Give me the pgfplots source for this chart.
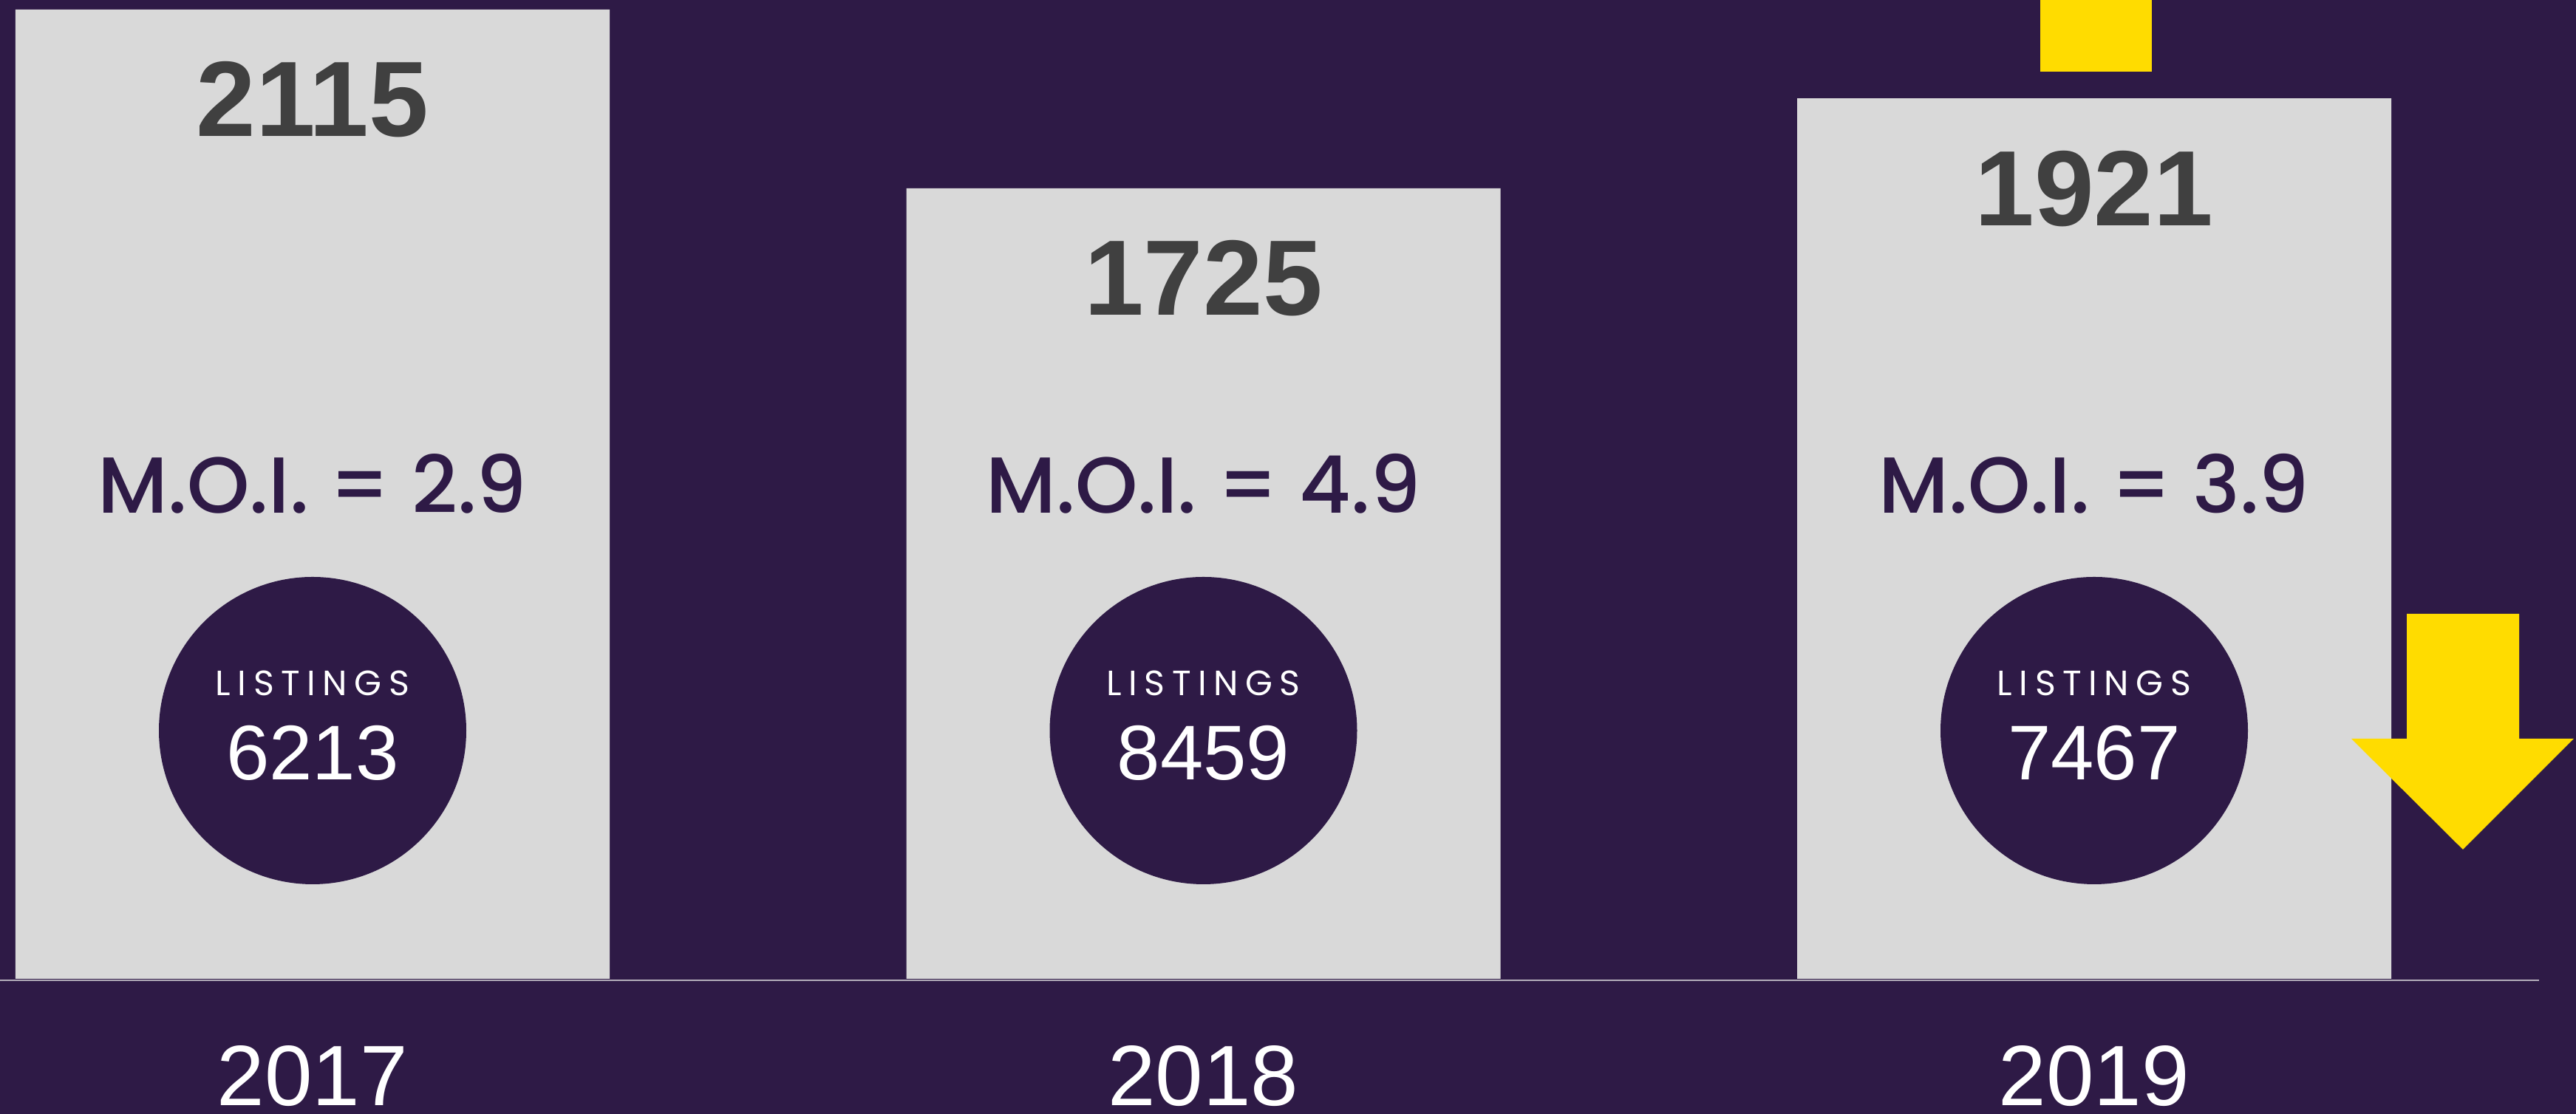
\documentclass[border=0pt]{standalone}
\usepackage{pgfplots}
\pgfplotsset{compat=1.18}
\usepackage{pgfplotstable}
\usepackage{fontspec}
\setmainfont{Liberation Sans}
\newfontfamily\popfont{Poppins Medium}
\newfontfamily\lsfont{Poppins}[LetterSpace=20]
\definecolor{bgpurple}{HTML}{2E1A46}
\definecolor{barg}{HTML}{D9D9D9}
\definecolor{valg}{HTML}{404040}
\definecolor{yel}{HTML}{FFDC00}
\definecolor{basel}{HTML}{B4AEBB}

\pgfplotstableread{
x year sales moi listings
0 2017 2115 2.9 6213
1 2018 1725 4.9 8459
2 2019 1921 3.9 7467
}\data

\pgfplotsset{
  textonly/.style={draw=none, mark=none, point meta=explicit symbolic},
}

\begin{document}
\begin{tikzpicture}
\path[use as bounding box, fill=bgpurple] (0,0) rectangle (697.2pt,301.6pt);
\begin{axis}[
  at={(0pt,36.6pt)}, anchor=south west,
  width=697.2pt, height=265pt, scale only axis,
  xmin=-0.35089, xmax=2.54085, ymin=0, ymax=2135.8,
  axis line style={draw=none}, tick style={draw=none},
  xtick=\empty, ytick=\empty,
  clip=false,
]
% bars
\addplot[ybar, bar width=160.8pt, fill=barg, draw=none] table[x=x, y=sales] \data;
% baseline
\draw[basel, line width=0.45pt] ([yshift=-0.35pt]rel axis cs:0,0) -- ([yshift=-0.35pt]rel axis cs:0.98566,0);
% bar values
\addplot[textonly,
  nodes near coords={\fontsize{29}{29}\selectfont\bfseries\pgfplotspointmeta},
  every node near coord/.style={anchor=center, yshift=-24.4pt, text=valg, inner sep=0pt}]
  table[x=x, y=sales, meta=sales] \data;
% M.O.I.
\addplot[textonly,
  nodes near coords={\popfont\fontsize{21.5}{21.5}\selectfont M.O.I.\ = \pgfplotspointmeta},
  every node near coord/.style={anchor=center, text=bgpurple, inner sep=0pt}]
  table[x=x, y expr=1080, meta=moi] \data;
% listing circles
\addplot[textonly,
  nodes near coords={},
  every node near coord/.style={anchor=center, circle, fill=bgpurple, draw=none,
    minimum size=83.2pt, inner sep=0pt}]
  table[x=x, y expr=541.6, meta=listings] \data;
% listing numbers
\addplot[textonly,
  nodes near coords={\fontsize{21}{21}\selectfont\pgfplotspointmeta},
  every node near coord/.style={anchor=center, yshift=-6pt, text=white, inner sep=0pt}]
  table[x=x, y expr=541.6, meta=listings] \data;
% LISTINGS caption
\addplot[textonly,
  nodes near coords={\lsfont\fontsize{9.5}{9.5}\selectfont LISTINGS},
  every node near coord/.style={anchor=center, yshift=12.8pt, text=white, inner sep=0pt}]
  table[x=x, y expr=541.6, meta=listings] \data;
% years
\addplot[textonly,
  nodes near coords={\fontsize{23.2}{23.2}\selectfont\pgfplotspointmeta},
  every node near coord/.style={anchor=center, yshift=-26.3pt, text=white, inner sep=0pt}]
  table[x=x, y expr=0, meta=year] \data;
\end{axis}
% decorative yellow shapes
\fill[yel] (552.2pt,282.2pt) rectangle (582.4pt,301.6pt);
\fill[yel] (651.4pt,135.4pt) -- (681.8pt,135.4pt) -- (681.8pt,101.6pt) -- (696.6pt,101.6pt)
  -- (666.6pt,71.6pt) -- (636.4pt,101.6pt) -- (651.4pt,101.6pt) -- cycle;
\end{tikzpicture}
\end{document}
